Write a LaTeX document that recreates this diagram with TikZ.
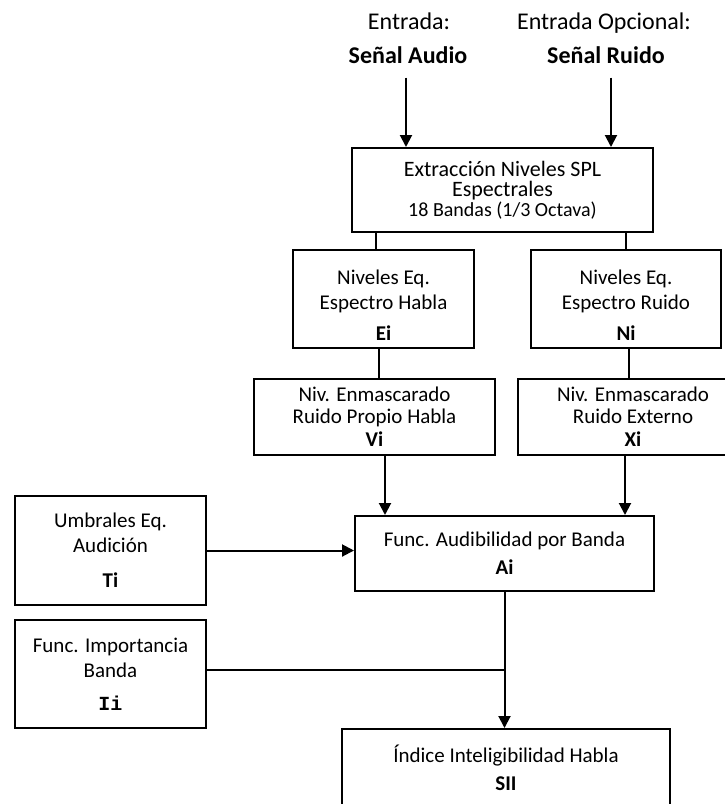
\documentclass[tikz,border=0pt]{standalone}
\usepackage{fontspec}
\setmainfont{Carlito}
\setmonofont{Liberation Mono}
\usepackage{tikz}
\usetikzlibrary{positioning, arrows.meta, calc}
\definecolor{lineInk}{HTML}{000000}
\definecolor{textInk}{HTML}{000000}

\begin{document}
\begin{tikzpicture}[
  x=1pt, y=-1pt,
  every node/.style={font=\fontsize{21}{25}\selectfont, text=textInk},
  blk/.style={rectangle, draw=lineInk, line width=2pt, inner sep=0pt, align=center},
  inLbl/.style={font=\fontsize{24}{30}\selectfont, anchor=base},
  conn/.style={draw=lineInk, line width=2pt},
  arr/.style={conn, -{Triangle[length=12pt, width=12pt]}},
]
  \useasboundingbox (0,0) rectangle (724,804);

  % entradas
  \node[inLbl] (entA) at (409,29) {Entrada:};
  \node[inLbl, font=\fontsize{24}{30}\selectfont\bfseries] (audio) at (408,63) {Señal Audio};
  \node[inLbl] (entR) at (604,29) {Entrada Opcional:};
  \node[inLbl, font=\fontsize{24}{30}\selectfont\bfseries] (ruido) at (606,63) {Señal Ruido};

  \node[blk, minimum width=301pt, minimum height=84pt, font=\fontsize{22}{20}\selectfont] (ext) at (502.5,190)
        {Extracción Niveles SPL\\Espectrales\\{\fontsize{20}{19}\selectfont 18 Bandas (1/3 Octava)}};

  \node[blk, minimum width=181pt, minimum height=98pt] (ei) at (383.5,299)
        {\rule{0pt}{26pt}Niveles Eq.\\Espectro Habla\\[6pt]\textbf{Ei}};
  \node[blk, minimum width=190pt, minimum height=98pt] (ni) at (626,299)
        {\rule{0pt}{26pt}Niveles Eq.\\Espectro Ruido\\[6pt]\textbf{Ni}};

  \node[blk, minimum width=241pt, minimum height=76pt] (vi) at (374.5,417)
        {Niv. Enmascarado\\[-3pt]Ruido Propio Habla\\[-2pt]\textbf{Vi}};
  \node[blk, minimum width=230pt, minimum height=76pt] (xi) at (633,417)
        {Niv. Enmascarado\\[-3pt]Ruido Externo\\[-2pt]\textbf{Xi}};

  \node[blk, minimum width=299pt, minimum height=75pt] (ai) at (504.5,553.5)
        {Func. Audibilidad por Banda\\[3pt]\textbf{Ai}};
  \node[blk, minimum width=191pt, minimum height=109pt] (ti) at (110.5,550.5)
        {Umbrales Eq.\\Audición\\[10pt]\textbf{Ti}};
  \node[blk, minimum width=191pt, minimum height=108pt] (ii) at (110.5,674)
        {Func. Importancia\\Banda\\[8pt]{\ttfamily\bfseries\fontsize{20}{24}\selectfont Ii}};

  \node[blk, minimum width=328pt, minimum height=77pt] (sii) at (506,767.5)
        {Índice Inteligibilidad Habla\\[3pt]\textbf{SII}};

  % puntos de enlace
  \coordinate (audioOut) at ([xshift=-2pt, yshift=-11pt]audio.south);
  \coordinate (ruidoOut) at ([xshift=5pt, yshift=-11pt]ruido.south);
  \coordinate (eiIn) at ([xshift=-7.5pt]ei.north);
  \coordinate (eiOut) at ([xshift=-4.5pt]ei.south);
  \coordinate (niOut) at ([xshift=3pt]ni.south);
  \coordinate (viOut) at ([xshift=10.5pt]vi.south);
  \coordinate (xiOut) at ([xshift=-8pt]xi.south);
  \coordinate (iiOut) at ([yshift=4pt]ii.east);

  \draw[arr] (audioOut) -- (audioOut |- ext.north);
  \draw[arr] (ruidoOut) -- (ruidoOut |- ext.north);
  \draw[conn] (eiIn |- ext.south) -- (eiIn);
  \draw[conn] (ni.north |- ext.south) -- (ni.north);
  \draw[conn] (eiOut) -- (eiOut |- vi.north);
  \draw[conn] (niOut) -- (niOut |- xi.north);
  \draw[arr] (viOut) -- (viOut |- ai.north);
  \draw[arr] (xiOut) -- (xiOut |- ai.north);
  \draw[arr] (ti.east) -- (ti.east -| ai.west);
  \draw[conn] (iiOut) -- (iiOut -| ai.south);
  \draw[arr] (ai.south) -- (ai.south |- sii.north);
\end{tikzpicture}
\end{document}
